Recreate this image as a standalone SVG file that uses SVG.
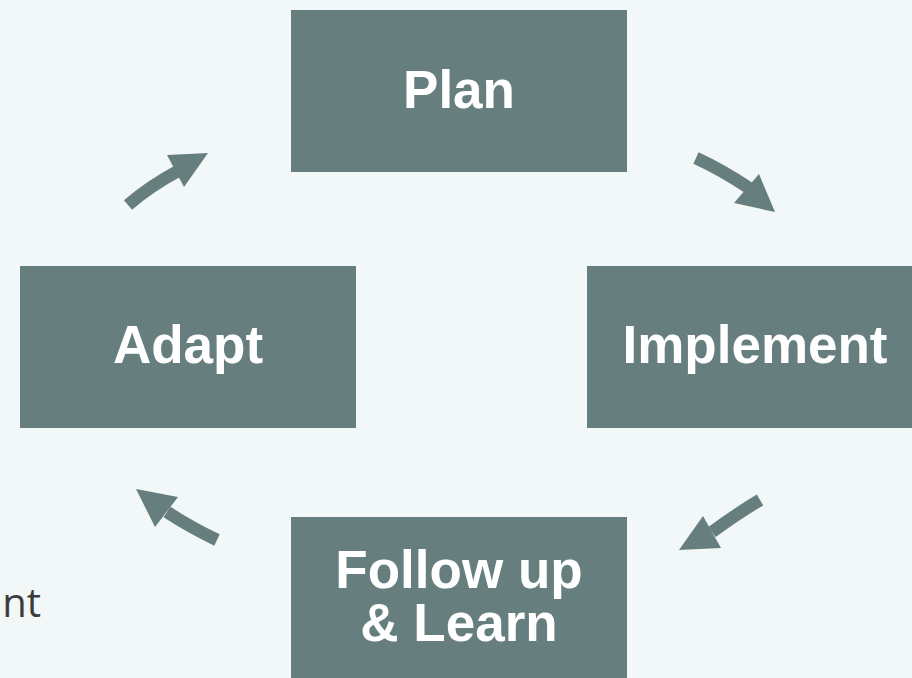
<svg xmlns="http://www.w3.org/2000/svg" width="912" height="678" viewBox="0 0 912 678">
  <defs>
    <style>
      .box { fill: #667f7e; }
      .lbl { fill: #ffffff; font-family: "Liberation Sans", Arial, sans-serif; font-weight: bold; font-size: 53px; text-anchor: middle; }
      .shaft { fill: none; stroke: #667f7e; stroke-width: 12.5; stroke-linecap: butt; }
      .head { fill: #667f7e; }
      .side { fill: #3c3c3c; font-family: "Open Sans", "Liberation Sans", sans-serif; font-size: 40px; }
    </style>
  </defs>
  <rect x="0" y="0" width="912" height="678" fill="#f2f7f8"/>

  <g id="plan">
    <rect class="box" x="291" y="10" width="336" height="162"/>
    <text class="lbl" x="459" y="108">Plan</text>
  </g>
  <g id="implement">
    <rect class="box" x="587" y="266" width="340" height="162"/>
    <text class="lbl" x="755" y="363">Implement</text>
  </g>
  <g id="follow-up">
    <rect class="box" x="291" y="517" width="336" height="170"/>
    <text class="lbl" x="459" y="588">Follow up</text>
    <text class="lbl" x="459" y="641">&amp; Learn</text>
  </g>
  <g id="adapt">
    <rect class="box" x="20" y="266" width="336" height="162"/>
    <text class="lbl" x="188" y="363">Adapt</text>
  </g>

  <g id="connectors">
    <path class="shaft" d="M128,205 Q150,186 178,171"/>
    <polygon class="head" points="208,153 167,155 184,187"/>
    <path class="shaft" d="M696,158 Q722,170 749,188"/>
    <polygon class="head" points="775,212 759,174 734,203"/>
    <path class="shaft" d="M760,500 Q738,513 712,532"/>
    <polygon class="head" points="679,550 703,516 721,548"/>
    <path class="shaft" d="M217,540 Q190,527 167,512"/>
    <polygon class="head" points="136,489 178,497 155,527"/>
  </g>

  <text class="side" x="41" y="617" text-anchor="end">nt</text>
</svg>
